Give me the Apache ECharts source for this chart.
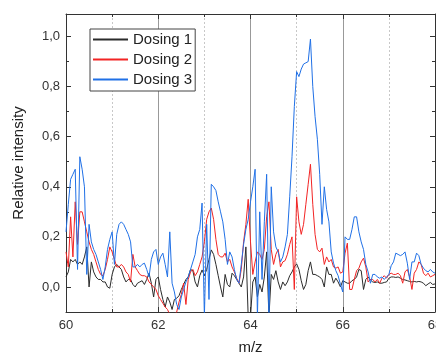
<!DOCTYPE html>
<html><head><meta charset="utf-8">
<script src="https://cdn.jsdelivr.net/npm/echarts@6/dist/echarts.min.js"></script>
<style>html,body{margin:0;padding:0;background:#fff}#c{width:436px;height:354px}</style>
</head><body><div id="c"></div>
<script>
const seriesNames = ['Dosing 1', 'Dosing 2', 'Dosing 3'];
const seriesColors = ['#2b2b2b', '#f22424', '#2070e6'];
const mzStart = 60, mzStep = 0.05;
const xMin = 60, xMax = 68, xInterval = 2;
const yMin = -0.1, yMax = 1.09;

const dosing1 = [
 0.04,0.06,0.11,0.10,0.11,0.09,0.10,0.09,0.12,0.16, 0.0,0.10,0.06,0.04,0.03,0.03,0.02,0.02,0.0,-0.005,
 0.05,0.08,0.09,0.08,0.07,0.04,0.02,0.03,0.03,0.01, 0.0,0.015,0.02,0.025,0.01,0.03,0.055,0.015,-0.04,0.03,
 0.04,-0.01,-0.05,-0.08,-0.04,-0.06,-0.09,-0.05,-0.045,-0.035, -0.01,0.01,0.03,0.04,0.07,0.065,0.02,0.0,0.045,0.068,
 0.045,0.07,0.11,0.148,0.13,0.09,0.045,0.0,-0.04,0.05, 0.01,0.0,0.055,0.045,0.03,0.015,0.0,0.04,0.16,-0.12,
 -0.12,0.02,0.04,-0.04,0.01,-0.02,0.04,0.14,-0.12,0.05, 0.03,0.065,0.02,-0.01,0.02,0.005,0.02,0.045,0.06,0.08,
 0.092,0.07,0.025,-0.01,0.01,0.065,0.10,0.05,0.05,0.045, 0.04,0.03,0.0,0.08,0.05,0.05,0.015,0.035,0.02,0.0,
 0.025,0.02,0.015,0.015,0.025,0.03,0.04,0.07,0.065,-0.01, 0.03,0.04,0.028,0.02,0.018,0.02,0.015,0.015,0.018,0.02,
 0.035,0.04,0.04,0.038,0.04,0.035,0.03,0.028,0.025,0.022, 0.02,0.022,0.02,0.022,0.02,0.015,0.005,0.012,0.018,0.01,
 0.012
];
const dosing2 = [
 0.14,0.08,0.28,0.12,0.34,0.17,0.30,0.30,0.26,0.22, 0.18,0.15,0.13,0.10,0.07,0.05,0.045,0.07,0.11,0.16,
 0.14,0.11,0.08,0.08,0.09,0.08,0.06,0.05,0.02,0.13, 0.08,0.065,0.05,0.045,0.045,0.04,0.02,0.01,0.0,-0.01,
 -0.035,-0.05,-0.065,-0.08,-0.09,-0.11,-0.12,-0.11,-0.10,-0.06, -0.03,0.015,-0.07,0.03,0.06,0.07,0.045,0.06,0.09,0.12,
 0.18,0.27,0.30,0.315,0.27,0.19,0.13,0.12,0.12,0.135, 0.10,0.11,0.08,0.06,0.035,0.015,0.07,0.18,0.25,0.35,
 0.18,0.05,0.10,0.14,0.13,0.11,0.15,0.28,0.34,0.15, 0.09,0.13,0.15,0.08,0.10,0.105,0.13,0.17,0.20,-0.01,
 0.36,0.26,0.21,0.25,0.33,0.41,0.49,0.33,0.21,0.15, 0.14,0.155,0.09,0.12,0.10,0.11,0.08,0.075,0.08,0.055,
 0.06,0.135,0.175,-0.01,-0.01,0.03,0.065,0.075,0.10,0.115, 0.08,0.02,0.03,0.03,0.02,0.03,0.015,0.035,0.045,0.035,
 0.05,0.055,0.05,0.05,0.055,0.045,0.015,0.06,0.07,0.04, -0.01,0.055,0.07,0.10,0.09,0.055,0.045,0.055,0.04,0.045,
 0.05
];
const dosing3 = [
 0.22,0.33,0.43,0.45,0.47,0.07,0.52,0.47,0.40,0.05, 0.25,0.18,0.15,0.13,0.10,0.07,0.03,0.08,0.15,0.19,
 0.22,0.09,0.21,0.25,0.26,0.25,0.23,0.21,0.18,0.08, 0.08,0.09,0.08,0.09,0.095,0.07,0.04,0.11,0.14,0.15,
 0.09,0.12,0.135,0.09,0.04,0.22,0.015,-0.02,-0.07,-0.09, -0.04,-0.01,0.02,0.04,0.07,0.10,0.13,0.20,0.23,0.335,
 -0.12,0.25,-0.05,0.41,0.40,0.385,0.34,0.30,0.26,0.19, 0.09,0.14,0.12,0.07,0.03,0.015,0.09,0.17,0.23,0.27,
 0.34,0.40,0.47,-0.12,0.30,0.03,0.26,0.45,-0.12,0.40, 0.22,0.16,0.14,0.10,0.12,0.16,0.21,0.36,0.52,0.72,
 0.86,0.84,0.87,0.89,0.895,0.90,0.99,0.80,0.68,0.59, 0.45,0.25,0.40,0.31,0.26,0.14,0.095,0.065,0.045,0.01,
 -0.02,0.20,0.19,0.19,0.23,0.28,0.28,0.22,0.18,0.15, 0.09,0.06,0.015,0.05,0.05,0.04,0.035,0.04,0.03,0.04,
 0.05,0.085,0.10,0.135,0.13,0.125,0.13,0.14,0.095,0.03, 0.10,0.10,0.135,0.125,0.09,0.075,0.065,0.06,0.07,0.06,
 0.055
];

const mz = dosing1.map((_, i) => +(mzStart + i * mzStep).toFixed(2));
const allSeries = [dosing1, dosing2, dosing3];
const font = 'Arial, "Liberation Sans", sans-serif';
const axisColor = '#333';
const fmt = v => v.toFixed(1).replace('.', ',');

function xAx(pos, main) {
  return {
    type: 'value', min: xMin, max: xMax, interval: xInterval, position: pos,
    axisLine: { show: true, onZero: false, lineStyle: { color: axisColor, width: 1 } },
    axisTick: { show: true, inside: true, length: 5, lineStyle: { color: axisColor } },
    minorTick: { show: true, splitNumber: 2, length: 3, lineStyle: { color: axisColor } },
    axisLabel: { show: main, fontSize: 13, color: '#333', margin: 7, fontFamily: font },
    splitLine: { show: main, lineStyle: { color: '#999', width: 1 } },
    minorSplitLine: { show: main, lineStyle: { color: '#c8c8c8', width: 1, type: [2, 2] } },
    name: main ? 'm/z' : '', nameLocation: 'middle', nameGap: 28,
    nameTextStyle: { fontSize: 15, color: '#222', fontFamily: font }
  };
}
function yMajor(pos, main) {
  return {
    type: 'value', min: yMin, max: yMax, position: pos, splitNumber: 5,
    axisLine: { show: true, onZero: false, lineStyle: { color: axisColor, width: 1 } },
    axisTick: { show: true, inside: true, length: 5, lineStyle: { color: axisColor } },
    axisLabel: { show: main, fontSize: 13, color: '#333', margin: 6, fontFamily: font,
      showMinLabel: false, showMaxLabel: false, formatter: fmt },
    splitLine: { show: false },
    name: main ? 'Relative intensity' : '', nameLocation: 'middle', nameGap: 40,
    nameTextStyle: { fontSize: 15, color: '#222', fontFamily: font }
  };
}
function yMinor(pos) {
  return {
    type: 'value', min: yMin, max: yMax, interval: 0.1, position: pos,
    axisLine: { show: false },
    axisTick: { show: true, inside: true, length: 3, lineStyle: { color: axisColor } },
    axisLabel: { show: false }, splitLine: { show: false }
  };
}

const chart = echarts.init(document.getElementById('c'), null, { renderer: 'canvas' });
chart.setOption({
  animation: false,
  backgroundColor: '#fff',
  grid: { left: 66, right: 1, top: 14, bottom: 42, containLabel: false, outerBoundsMode: 'none' },
  xAxis: [xAx('bottom', true), xAx('top', false)],
  yAxis: [yMajor('left', true), yMinor('left'), yMajor('right', false), yMinor('right')],
  legend: {
    orient: 'vertical', left: 90, top: 29,
    data: seriesNames,
    itemWidth: 35, itemHeight: 14, itemGap: 5,
    padding: [3, 3, 4, 2],
    itemStyle: { opacity: 0 },
    borderColor: '#444', borderWidth: 1, borderRadius: 0, backgroundColor: '#fff',
    textStyle: { fontSize: 15, lineHeight: 14, color: '#222', fontFamily: font }
  },
  series: allSeries.map((vals, k) => ({
    name: seriesNames[k], type: 'line', xAxisIndex: 0, yAxisIndex: 0,
    symbol: 'none', clip: true,
    data: vals.map((v, i) => [mz[i], v]),
    lineStyle: { color: seriesColors[k], width: 1 },
    itemStyle: { color: seriesColors[k] },
    z: 2 + k
  }))
});
</script></body></html>
